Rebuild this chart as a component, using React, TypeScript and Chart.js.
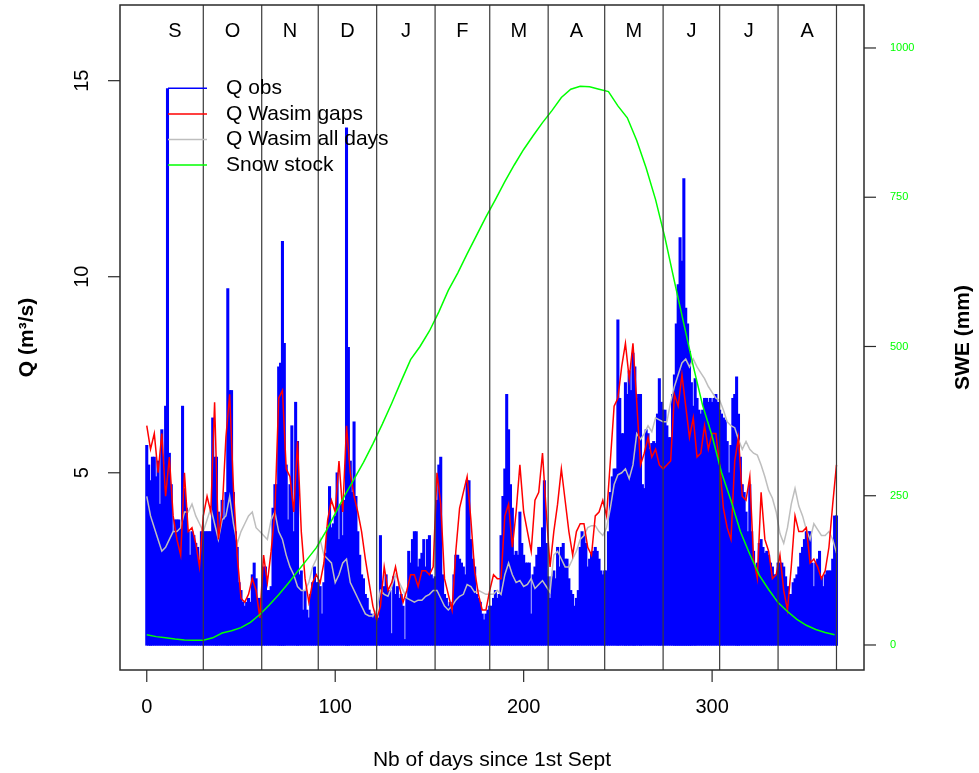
import React, { useEffect, useRef } from "react";
import { Chart, registerables } from "chart.js";

Chart.register(...registerables);

// ---------- data ----------
const MONTH_LABELS = ["S", "O", "N", "D", "J", "F", "M", "A", "M", "J", "J", "A"];
const MONTH_ENDS = [30, 61, 91, 122, 153, 182, 213, 243, 274, 304, 335, 366];
const X_TICKS = [0, 100, 200, 300];
const Q_TICKS = [5, 10, 15];
const SWE_TICKS = [0, 250, 500, 750, 1000];
const LEGEND_LABELS = ["Q obs", "Q Wasim gaps", "Q Wasim all days", "Snow stock"];

const Q_BASE = 0.6; // minimum discharge: bars start here

// daily observed discharge, day 0 .. 366
const Q_OBS = [
  5.7, 5.2, 4.8, 5.4, 5.4, 4.9, 5.3, 4.2, 6.1, 5.2,
  6.7, 14.8, 5.5, 4.7, 3.5, 3.8, 3.8, 3.8, 3.6, 6.7,
  4.6, 4.1, 3.5, 2.9, 3.5, 3.4, 3.2, 3.1, 2.6, 3.5,
  3.5, 3.5, 3.5, 3.5, 3.5, 6.4, 5.4, 5.4, 4.0, 3.5,
  4.3, 3.8, 4.5, 9.7, 7.1, 7.1, 4.5, 3.5, 3.1, 2.2,
  2.0, 1.7, 1.6, 1.7, 1.8, 1.7, 2.4, 2.7, 2.3, 1.8,
  1.8, 1.4, 2.6, 2.6, 2.0, 2.0, 2.1, 4.1, 4.7, 4.7,
  7.7, 7.8, 10.9, 8.3, 5.2, 3.8, 4.7, 6.2, 3.5, 6.8,
  5.8, 2.4, 2.5, 1.5, 2.0, 1.5, 1.3, 1.9, 2.2, 2.6,
  2.2, 2.2, 2.1, 1.4, 2.2, 2.95, 3.6, 4.65, 3.6, 3.7,
  3.9, 5.0, 3.3, 4.2, 3.4, 4.3, 13.8, 8.2, 5.3, 4.5,
  6.3, 4.4, 3.5, 2.9, 2.4, 2.3, 1.9, 1.8, 1.5, 1.4,
  1.3, 1.4, 1.2, 1.3, 3.4, 1.9, 2.1, 2.4, 2.0, 2.0,
  0.9, 2.35, 1.9, 2.1, 1.8, 1.9, 1.6, 0.75, 1.8, 3.0,
  2.7, 3.3, 3.5, 3.5, 2.6, 2.8, 2.95, 3.3, 2.6, 3.3,
  3.4, 2.4, 2.3, 2.35, 4.3, 5.2, 5.4, 2.4, 1.9, 1.8,
  1.6, 1.7, 1.5, 2.4, 2.9, 2.9, 2.8, 2.7, 2.6, 2.4,
  4.8, 4.8, 3.3, 2.8, 2.6, 1.9, 1.8, 1.7, 1.4, 1.25,
  1.4, 1.5, 1.6, 1.6, 1.8, 2.0, 1.8, 1.9, 3.4, 4.4,
  5.1, 7.0, 6.1, 4.7, 4.1, 2.9, 3.0, 2.9, 4.0, 3.2,
  2.9, 2.7, 2.7, 2.7, 1.4, 2.4, 2.6, 2.9, 3.1, 3.1,
  3.6, 4.8, 3.2, 2.35, 1.8, 2.35, 2.5, 2.3, 3.1, 2.6,
  3.1, 3.2, 2.8, 2.8, 2.3, 2.0, 1.9, 1.6, 1.8, 2.0,
  3.1, 3.5, 3.4, 3.2, 2.6, 2.8, 2.95, 3.0, 3.1, 3.0,
  2.8, 2.5, 2.4, 2.5, 2.5, 3.5, 4.5, 4.9, 5.1, 5.1,
  8.9, 6.9, 6.0, 6.0, 7.3, 7.0, 7.6, 7.1, 8.05, 7.7,
  6.9, 7.0, 7.0, 4.7, 4.6, 6.1, 6.0, 5.6, 5.75, 5.8,
  5.75, 6.5, 7.4, 6.8, 6.6, 6.6, 6.2, 5.9, 5.9, 7.0,
  7.5, 8.8, 9.8, 11.0, 10.4, 12.5, 9.2, 8.8, 8.1, 7.3,
  6.7, 7.4, 6.9, 6.6, 6.5, 6.6, 6.9, 6.9, 6.8, 6.9,
  6.8, 6.9, 7.0, 6.8, 6.6, 6.5, 6.4, 6.35, 5.8, 5.0,
  5.7, 6.9, 7.0, 7.45, 6.5, 5.4, 4.7, 4.5, 4.0, 3.5,
  4.7, 3.5, 3.0, 2.6, 2.7, 3.2, 3.3, 3.1, 2.95, 3.0,
  2.9, 2.7, 2.6, 2.4, 2.4, 2.7, 2.7, 2.7, 2.6, 2.35,
  2.1, 1.9, 1.9, 2.2, 2.3, 2.4, 2.6, 2.95, 3.1, 3.3,
  3.5, 3.5, 3.5, 2.7, 2.1, 2.7, 2.8, 3.0, 2.35, 2.1,
  2.4, 2.5, 2.5, 2.5, 2.8, 3.9, 3.9,
];

// simulated discharge (gaps run), read every 2 days: day 0, 2, ... 366
const GAPS_STEP = 2;
const Q_WASIM_GAPS = [
  6.2, 5.6, 6.0, 5.0, 6.0, 4.4, 5.4, 3.9, 3.3, 2.9,
  5.0, 3.5, 3.6, 3.2, 2.6, 3.9, 4.4, 4.0, 6.8, 3.3,
  4.0, 5.9, 7.0, 4.6, 2.9, 1.8, 1.7, 1.9, 2.3, 2.0,
  1.3, 2.9, 2.2, 3.0, 4.0, 6.9, 7.1, 5.1, 4.9, 4.0,
  5.8, 3.5, 2.3, 1.7, 2.2, 2.4, 2.2, 2.7, 3.8, 4.3,
  4.0, 5.3, 4.0, 6.2, 5.0, 4.4, 4.0, 3.5, 2.8, 2.2,
  1.6, 1.25, 1.6, 2.6, 2.0, 2.2, 2.6, 2.1, 1.7, 2.0,
  2.4, 2.4, 2.1, 2.5, 2.5, 2.4, 2.6, 5.0, 4.2, 2.3,
  1.9, 1.5, 3.0, 4.1, 4.5, 4.9, 3.8, 2.5, 1.9, 1.5,
  1.5, 2.0, 2.4, 2.3, 2.3, 3.9, 4.2, 3.1, 4.0, 5.2,
  4.0, 3.5, 3.0, 4.3, 4.5, 5.5, 4.0, 2.6, 3.5, 4.2,
  5.1, 4.3, 3.5, 2.9, 3.5, 3.7, 3.7, 3.1, 2.9, 3.9,
  4.0, 4.3, 3.9, 5.3, 6.7, 6.9, 7.7, 8.3, 7.4, 8.3,
  6.8, 5.2, 5.5, 5.9, 5.4, 5.6, 5.2, 5.1, 5.2, 5.3,
  7.0, 6.7, 7.5, 6.7, 5.9, 6.4, 5.4, 5.5, 6.2, 5.6,
  6.0, 6.0, 5.2, 4.1, 3.6, 3.3, 5.3, 5.9, 4.4, 4.3,
  4.9, 2.8, 2.3, 4.5, 3.3, 3.0, 2.3, 2.4, 2.9, 2.0,
  1.5, 2.6, 3.9, 3.5, 3.5, 3.6, 2.7, 2.8, 2.6, 2.3,
  2.5, 3.1, 4.2, 5.2,
];

// simulated discharge (all days), read every 2 days
const ALL_STEP = 2;
const Q_WASIM_ALL = [
  4.4, 3.9, 3.6, 3.3, 3.0, 3.1, 3.3, 3.5, 3.5, 3.6,
  4.0, 4.0, 4.2, 3.9, 3.7, 3.5, 3.8, 4.1, 3.7, 3.3,
  3.8, 3.9, 4.4, 3.7, 3.2, 3.5, 3.7, 3.9, 4.0, 3.6,
  3.5, 3.4, 3.3, 3.8, 4.0, 3.5, 3.3, 2.9, 2.6, 2.4,
  2.1, 2.0, 2.0, 2.2, 2.6, 2.8, 3.3, 2.9, 2.8, 2.7,
  2.2, 2.4, 2.7, 2.8, 2.2, 2.0, 1.8, 1.6, 1.4, 1.35,
  1.35, 1.5, 2.0, 1.9, 1.85, 2.1, 2.4, 2.2, 2.0, 1.8,
  1.75, 1.7, 1.75, 1.75, 1.85, 1.9, 2.0, 2.0, 1.8, 1.6,
  1.5, 1.6, 1.75, 1.85, 1.9, 2.15, 2.1, 1.95, 2.0, 1.95,
  1.9, 1.9, 1.9, 2.0, 1.9, 2.4, 2.7, 2.4, 2.2, 2.25,
  2.1, 2.15, 2.3, 2.05, 2.15, 2.25, 2.1, 1.95, 2.9, 3.0,
  2.8, 2.6, 2.6, 2.8, 3.0, 3.3, 3.4, 3.6, 3.65, 3.65,
  3.5, 3.4, 3.6, 4.1, 4.7, 4.95, 5.0, 5.1, 4.85, 5.2,
  6.0, 5.85, 6.0, 6.2, 6.05, 6.4, 6.35, 6.3, 6.3, 6.8,
  7.2, 7.5, 7.8, 7.9, 7.7, 7.9, 7.7, 7.55, 7.4, 7.2,
  7.05, 6.9, 6.85, 6.6, 6.3, 6.2, 6.15, 5.85, 5.6, 5.8,
  5.6, 5.5, 5.45, 5.2, 4.9, 4.55, 4.35, 4.0, 3.45, 3.2,
  3.6, 4.2, 4.6, 4.15, 3.9, 3.55, 3.3, 3.7, 3.55, 3.4,
  3.4, 3.5, 3.3, 2.95,
];

// snow water equivalent (mm), read every 5 days: day 0, 5, ... 365
const SNOW_STEP = 5;
const SNOW_STOCK = [
  17, 14, 12, 10, 8.5, 8, 8, 12, 20, 24,
  29, 38, 51, 67, 84, 103, 123, 143, 163, 190,
  220, 250, 278, 306, 337, 370, 405, 442, 478, 500,
  526, 558, 594, 623, 655, 686, 717, 746, 776, 804,
  830, 853, 875, 895, 917, 931, 936, 935, 931, 927,
  903, 883, 845, 799, 746, 682, 609, 538, 467, 401,
  350, 289, 242, 190, 152, 117, 93, 71, 56, 43,
  33, 26, 21, 17,
];

// ---------- styling ----------
const FONT = '"Liberation Sans", Arial, Helvetica, sans-serif';
const C_BLUE = "#0000FF";
const C_RED = "#FF0000";
const C_GRAY = "#BEBEBE";
const C_GREEN = "#00FF00";
const LEGEND_COLORS = [C_BLUE, C_RED, C_GRAY, C_GREEN];

const decorPlugin = {
  id: "decor",
  beforeDraw(chart: any) {
    const { ctx, width, height } = chart;
    ctx.save();
    ctx.fillStyle = "#FFFFFF";
    ctx.fillRect(0, 0, width, height);
    ctx.restore();
  },
  afterDatasetsDraw(chart: any) {
    const { ctx, chartArea: a, scales } = chart;
    const sx = scales.x;
    const sy = scales.y;
    const sy2 = scales.y2;
    ctx.save();

    // month separators
    ctx.strokeStyle = "#3a3a3a";
    ctx.lineWidth = 1.2;
    MONTH_ENDS.forEach((d) => {
      const px = sx.getPixelForValue(d);
      ctx.beginPath();
      ctx.moveTo(px, a.top);
      ctx.lineTo(px, a.bottom);
      ctx.stroke();
    });

    // month labels
    ctx.fillStyle = "#000";
    ctx.font = `20px ${FONT}`;
    ctx.textAlign = "center";
    ctx.textBaseline = "middle";
    let prev = 0;
    MONTH_ENDS.forEach((d, i) => {
      const mid = (prev + d) / 2;
      ctx.fillText(MONTH_LABELS[i], sx.getPixelForValue(mid), a.top + 26);
      prev = d;
    });

    // box
    ctx.strokeStyle = "#2a2a2a";
    ctx.lineWidth = 1.5;
    ctx.strokeRect(a.left, a.top, a.right - a.left, a.bottom - a.top);

    // tick marks
    const tl = 12;
    ctx.lineWidth = 1.2;
    ctx.strokeStyle = "#2a2a2a";
    X_TICKS.forEach((v) => {
      const px = sx.getPixelForValue(v);
      ctx.beginPath();
      ctx.moveTo(px, a.bottom);
      ctx.lineTo(px, a.bottom + tl);
      ctx.stroke();
    });
    Q_TICKS.forEach((v) => {
      const py = sy.getPixelForValue(v);
      ctx.beginPath();
      ctx.moveTo(a.left, py);
      ctx.lineTo(a.left - tl, py);
      ctx.stroke();
    });
    SWE_TICKS.forEach((v) => {
      const py = sy2.getPixelForValue(v);
      ctx.beginPath();
      ctx.moveTo(a.right, py);
      ctx.lineTo(a.right + tl, py);
      ctx.stroke();
    });

    // tick labels
    ctx.fillStyle = "#000";
    ctx.font = `20px ${FONT}`;
    ctx.textAlign = "center";
    ctx.textBaseline = "middle";
    X_TICKS.forEach((v) => {
      ctx.fillText(String(v), sx.getPixelForValue(v), a.bottom + 37);
    });
    Q_TICKS.forEach((v) => {
      const py = sy.getPixelForValue(v);
      ctx.save();
      ctx.translate(a.left - 38, py);
      ctx.rotate(-Math.PI / 2);
      ctx.fillText(String(v), 0, 0);
      ctx.restore();
    });
    ctx.fillStyle = C_GREEN;
    ctx.font = `11px ${FONT}`;
    ctx.textAlign = "left";
    SWE_TICKS.forEach((v) => {
      ctx.fillText(String(v), a.right + 26, sy2.getPixelForValue(v));
    });

    // axis titles
    ctx.fillStyle = "#000";
    ctx.font = `21px ${FONT}`;
    ctx.textAlign = "center";
    ctx.fillText("Nb of days since 1st Sept", (a.left + a.right) / 2, a.bottom + 90);
    const midY = (a.top + a.bottom) / 2;
    ctx.font = `bold 21px ${FONT}`;
    ctx.save();
    ctx.translate(27, midY);
    ctx.rotate(-Math.PI / 2);
    ctx.fillText("Q (m³/s)", 0, 0);
    ctx.restore();
    ctx.save();
    ctx.translate(a.right + 99, midY);
    ctx.rotate(-Math.PI / 2);
    ctx.fillText("SWE (mm)", 0, 0);
    ctx.restore();

    // legend
    ctx.font = `21px ${FONT}`;
    ctx.textAlign = "left";
    ctx.textBaseline = "middle";
    LEGEND_LABELS.forEach((lab, i) => {
      const ly = a.top + 83.3 + i * 25.6;
      ctx.strokeStyle = LEGEND_COLORS[i];
      ctx.lineWidth = 1.5;
      ctx.beginPath();
      ctx.moveTo(a.left + 48, ly);
      ctx.lineTo(a.left + 87, ly);
      ctx.stroke();
      ctx.fillStyle = "#000";
      ctx.fillText(lab, a.left + 106, ly);
    });

    ctx.restore();
  },
};

export default function App() {
  const ref = useRef<HTMLCanvasElement | null>(null);

  useEffect(() => {
    if (!ref.current) return;
    const chart = new Chart(ref.current, {
      type: "bar",
      data: {
        datasets: [
          {
            type: "bar",
            label: LEGEND_LABELS[0],
            data: Q_OBS.map((v, i) => ({ x: i, y: v })),
            backgroundColor: C_BLUE,
            borderWidth: 0,
            base: Q_BASE,
            barThickness: 2.4,
            xAxisID: "x",
            yAxisID: "y",
            order: 4,
          } as any,
          {
            type: "line",
            label: LEGEND_LABELS[2],
            data: Q_WASIM_ALL.map((v, i) => ({ x: i * ALL_STEP, y: v })),
            borderColor: C_GRAY,
            borderWidth: 1.5,
            pointRadius: 0,
            tension: 0,
            fill: false,
            xAxisID: "x",
            yAxisID: "y",
            order: 3,
          },
          {
            type: "line",
            label: LEGEND_LABELS[1],
            data: Q_WASIM_GAPS.map((v, i) => ({ x: i * GAPS_STEP, y: v })),
            borderColor: C_RED,
            borderWidth: 1.5,
            pointRadius: 0,
            tension: 0,
            fill: false,
            xAxisID: "x",
            yAxisID: "y",
            order: 2,
          },
          {
            type: "line",
            label: LEGEND_LABELS[3],
            data: SNOW_STOCK.map((v, i) => ({ x: i * SNOW_STEP, y: v })),
            borderColor: C_GREEN,
            borderWidth: 1.5,
            pointRadius: 0,
            tension: 0,
            fill: false,
            xAxisID: "x",
            yAxisID: "y2",
            order: 1,
          },
        ],
      },
      options: {
        responsive: false,
        animation: false,
        devicePixelRatio: 1,
        events: [],
        layout: { padding: { left: 120, right: 115, top: 5, bottom: 103 } },
        plugins: {
          legend: { display: false },
          tooltip: { enabled: false },
        },
        scales: {
          x: { type: "linear", min: -14.2, max: 380.6, offset: false, display: false },
          y: { type: "linear", min: -0.03, max: 16.93, display: false },
          y2: { type: "linear", position: "right", min: -41.9, max: 1072, display: false },
        },
      },
      plugins: [decorPlugin],
    });
    return () => chart.destroy();
  }, []);

  return (
    <div style={{ position: "absolute", left: 0, top: 0, width: 979, height: 773 }}>
      <canvas ref={ref} width={979} height={773} style={{ display: "block" }} />
    </div>
  );
}
